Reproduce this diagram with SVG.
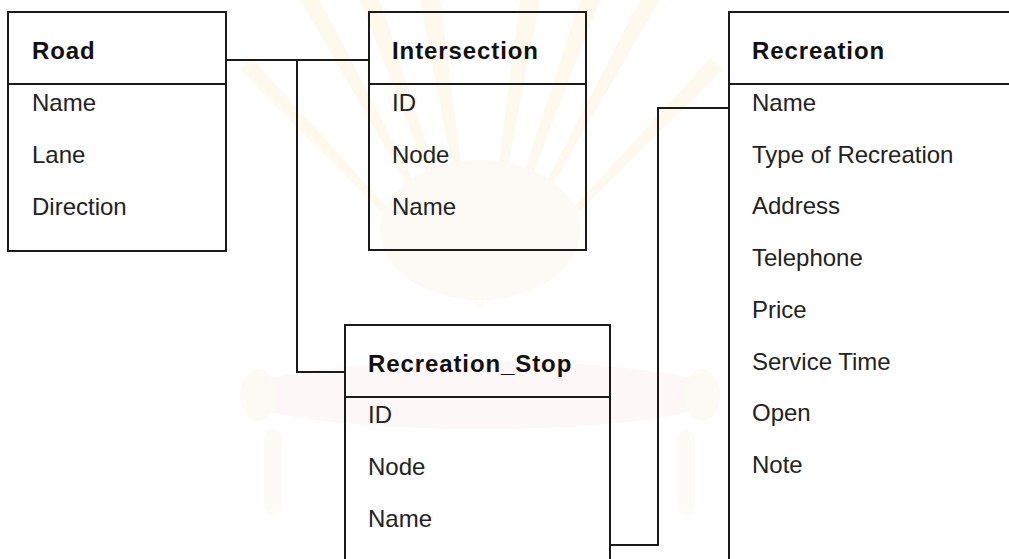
<svg xmlns="http://www.w3.org/2000/svg" width="1009" height="559" viewBox="0 0 1009 559">
  <style>
    .box { fill: none; stroke: #1a1a1a; stroke-width: 2; }
    .rule { stroke: #1a1a1a; stroke-width: 2; }
    .link { fill: none; stroke: #1a1a1a; stroke-width: 2; }
    .title { font-family: "Liberation Sans", Arial, sans-serif; font-size: 24px; font-weight: bold; letter-spacing: 0.9px; fill: #111; }
    .attr { font-family: "Liberation Sans", Arial, sans-serif; font-size: 24px; fill: #222; }
    .ray { fill: #fcf6e2; }
  </style>

  <rect width="1009" height="559" fill="#ffffff"/>

  <!-- faint background emblem -->
  <g id="emblem" opacity="0.6">
    <path class="ray" d="M480 310 L300 0 L320 0 Z"/>
    <path class="ray" d="M480 310 L360 0 L380 0 Z"/>
    <path class="ray" d="M480 310 L420 0 L440 0 Z"/>
    <path class="ray" d="M480 310 L520 0 L540 0 Z"/>
    <path class="ray" d="M480 310 L580 0 L600 0 Z"/>
    <path class="ray" d="M480 310 L640 0 L660 0 Z"/>
    <path class="ray" d="M480 310 L240 70 L252 58 Z"/>
    <path class="ray" d="M480 310 L710 58 L722 70 Z"/>
    <ellipse cx="480" cy="230" rx="100" ry="70" fill="#faf7ef"/>
    <ellipse cx="480" cy="395" rx="240" ry="34" fill="#fcf2f2"/>
    <ellipse cx="258" cy="395" rx="18" ry="26" fill="#fbf8ee"/>
    <ellipse cx="702" cy="395" rx="18" ry="26" fill="#fbf8ee"/>
    <rect x="264" y="430" width="18" height="85" rx="9" fill="#fcfaf2"/>
    <rect x="677" y="430" width="18" height="85" rx="9" fill="#fcfaf2"/>
  </g>

  <!-- relationship lines -->
  <g id="connectors">
    <polyline class="link" points="226,60 369,60"/>
    <polyline class="link" points="297,60 297,372 345,372"/>
    <polyline class="link" points="729,108 658,108 658,545 610,545"/>
  </g>

  <g id="road">
    <rect class="box" x="8" y="12" width="218" height="239"/>
    <line class="rule" x1="8" y1="84" x2="226" y2="84"/>
    <text class="title" x="32" y="59">Road</text>
    <text class="attr" x="32" y="111">Name</text>
    <text class="attr" x="32" y="163">Lane</text>
    <text class="attr" x="32" y="215">Direction</text>
  </g>

  <g id="intersection">
    <rect class="box" x="369" y="12" width="217" height="238"/>
    <line class="rule" x1="369" y1="84" x2="586" y2="84"/>
    <text class="title" x="392" y="59">Intersection</text>
    <text class="attr" x="392" y="111">ID</text>
    <text class="attr" x="392" y="163">Node</text>
    <text class="attr" x="392" y="215">Name</text>
  </g>

  <g id="recreation">
    <rect class="box" x="729" y="12" width="320" height="600"/>
    <line class="rule" x1="729" y1="84" x2="1009" y2="84"/>
    <text class="title" x="752" y="59">Recreation</text>
    <text class="attr" x="752" y="111">Name</text>
    <text class="attr" x="752" y="163">Type of Recreation</text>
    <text class="attr" x="752" y="214">Address</text>
    <text class="attr" x="752" y="266">Telephone</text>
    <text class="attr" x="752" y="318">Price</text>
    <text class="attr" x="752" y="370">Service Time</text>
    <text class="attr" x="752" y="421">Open</text>
    <text class="attr" x="752" y="473">Note</text>
  </g>

  <g id="recreation_stop">
    <rect class="box" x="345" y="325" width="265" height="300"/>
    <line class="rule" x1="345" y1="397" x2="610" y2="397"/>
    <text class="title" x="368" y="372">Recreation_Stop</text>
    <text class="attr" x="368" y="423">ID</text>
    <text class="attr" x="368" y="475">Node</text>
    <text class="attr" x="368" y="527">Name</text>
  </g>
</svg>
